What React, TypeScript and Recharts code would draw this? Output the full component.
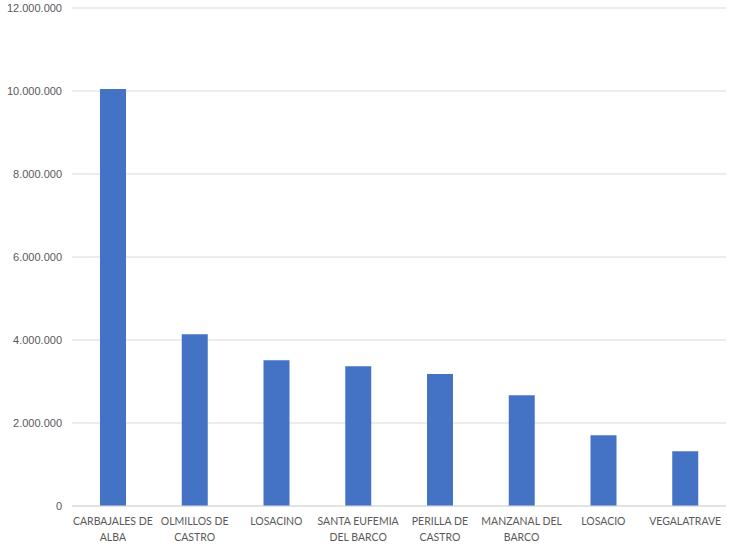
import React from 'react';
import { BarChart, Bar, XAxis, YAxis, CartesianGrid } from 'recharts';

const categories = [
  'CARBAJALES DE ALBA',
  'OLMILLOS DE CASTRO',
  'LOSACINO',
  'SANTA EUFEMIA DEL BARCO',
  'PERILLA DE CASTRO',
  'MANZANAL DEL BARCO',
  'LOSACIO',
  'VEGALATRAVE',
];
const values = [10050000, 4140000, 3515000, 3370000, 3178000, 2670000, 1705000, 1320000];
const yTicks = [0, 2000000, 4000000, 6000000, 8000000, 10000000, 12000000];

const data = categories.map((name, i) => ({ name, value: values[i] }));

const fmt = (v: number) => v.toLocaleString('de-DE');

const wrap = (s: string, max: number) => {
  const words = s.split(' ');
  const lines: string[] = [];
  let cur = '';
  words.forEach((w) => {
    const next = cur ? cur + ' ' + w : w;
    if (next.length > max && cur) {
      lines.push(cur);
      cur = w;
    } else {
      cur = next;
    }
  });
  if (cur) lines.push(cur);
  return lines;
};

const XTick = (props: any) => {
  const { x, y, payload } = props;
  const lines = wrap(String(payload.value), 13);
  return (
    <text
      x={x}
      y={y}
      textAnchor="middle"
      fill="#595959"
      fontSize={10.5}
      fontFamily="Lato, sans-serif"
    >
      {lines.map((l, i) => (
        <tspan key={i} x={x} dy={i === 0 ? 11 : 16}>
          {l}
        </tspan>
      ))}
    </text>
  );
};

export default function App() {
  return (
    <div style={{ position: 'absolute', left: 0, top: 0, width: 737, height: 549, background: '#fff' }}>
      <BarChart
        width={737}
        height={549}
        data={data}
        margin={{ top: 8, right: 11, bottom: 0, left: 0 }}
        barCategoryGap={0}
      >
        <CartesianGrid vertical={false} stroke="#D9D9D9" strokeWidth={1} />
        <XAxis
          dataKey="name"
          axisLine={{ stroke: '#D9D9D9' }}
          tickLine={false}
          interval={0}
          height={43}
          tickSize={0}
          tickMargin={8}
          tick={<XTick />}
        />
        <YAxis
          width={72}
          domain={[0, 12000000]}
          ticks={yTicks}
          tickFormatter={fmt}
          axisLine={false}
          tickLine={false}
          tickSize={0}
          tickMargin={10}
          tick={{ fill: '#595959', fontSize: 11, fontFamily: "'Liberation Sans', Arial, sans-serif" }}
        />
        <Bar dataKey="value" fill="#4472C4" barSize={26} isAnimationActive={false} />
      </BarChart>
    </div>
  );
}
